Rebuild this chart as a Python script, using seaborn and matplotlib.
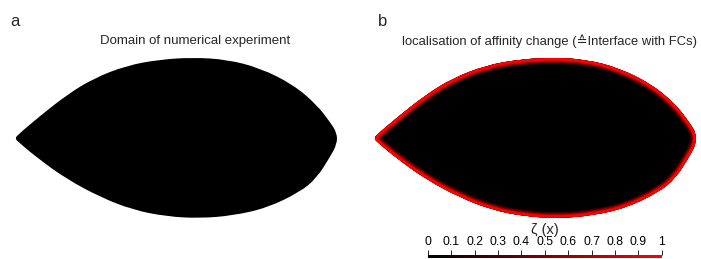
import numpy as np
import matplotlib
matplotlib.use("Agg")
import matplotlib.pyplot as plt
import seaborn as sns
from matplotlib.path import Path
from matplotlib.patches import PathPatch

# outline of the domain (pixels, panel a frame)
outline_x = [15.5, 17, 40, 66.7, 93.3, 126.7, 160, 193.3, 226.7, 260, 293.3, 316.7, 330, 337,
             337, 330, 316.7, 300, 266.7, 233.3, 200, 166.7, 133.3, 100, 66.7, 40, 17]
outline_y = [138.3, 135.5, 116, 95, 78.5, 65.5, 59.5, 57.5, 59.5, 68, 84.7, 104.7, 122, 133,
             144, 157, 178, 192, 208, 215.5, 218.3, 216.5, 210, 197, 179, 160, 141]

zeta_ticks = [0, 0.1, 0.2, 0.3, 0.4, 0.5, 0.6, 0.7, 0.8, 0.9, 1]
zeta_labels = ["0", "0.1", "0.2", "0.3", "0.4", "0.5", "0.6", "0.7", "0.8", "0.9", "1"]

title_a = "Domain of numerical experiment"
title_b = "localisation of affinity change (\u2259Interface with FCs)"

sns.set_theme(style="white")
plt.rcParams["font.family"] = ["Liberation Sans", "DejaVu Sans"]

cmap = sns.blend_palette(["black", "red"], as_cmap=True)


def smooth_path(xs, ys):
    # closed quadratic b-spline with the read points as control points
    p = np.column_stack([xs, ys])
    n = len(p)
    mids = (p + np.roll(p, -1, axis=0)) / 2
    verts = [mids[-1]]
    codes = [Path.MOVETO]
    for i in range(n):
        verts += [p[i], mids[i]]
        codes += [Path.CURVE3, Path.CURVE3]
    return Path(verts, codes)


W, H = 701, 259
fig = plt.figure(figsize=(W / 100, H / 100), dpi=100)

ax_a = fig.add_axes([0, 0, 342 / W, 1])
ax_b = fig.add_axes([359 / W, 0, 342 / W, 1])
for ax in (ax_a, ax_b):
    ax.set_xlim(0, 342)
    ax.set_ylim(H, 0)
    ax.axis("off")

shape = smooth_path(outline_x, outline_y)

# panel a
ax_a.add_patch(PathPatch(shape, facecolor="black", edgecolor="none"))
ax_a.text(15, 21, "a", fontsize=12, ha="center", va="center")
ax_a.text(195, 41, title_a, fontsize=9.5, ha="center", va="center")

# panel b: black interior, zeta rises to 1 at the boundary
base = PathPatch(shape, facecolor="black", edgecolor="none")
ax_b.add_patch(base)
for depth, level in [(6, 0.15), (5, 0.35), (4, 0.55), (3.2, 0.75), (2.5, 1.0)]:
    ring = PathPatch(shape, facecolor="none", edgecolor=cmap(level),
                     linewidth=2 * depth * 0.72)
    ax_b.add_patch(ring)
    ring.set_clip_path(base)
ax_b.text(24, 21, "b", fontsize=12, ha="center", va="center")
ax_b.text(190, 41, title_b, fontsize=9.4, ha="center", va="center")

# colorbar
cax = fig.add_axes([428 / W, 1 - 258 / H, (661.7 - 428) / W, 3.5 / H])
sm = matplotlib.cm.ScalarMappable(norm=matplotlib.colors.Normalize(0, 1), cmap=cmap)
cb = fig.colorbar(sm, cax=cax, orientation="horizontal")
cb.outline.set_visible(False)
cax.xaxis.set_ticks_position("top")
cax.xaxis.set_label_position("top")
cb.set_ticks(zeta_ticks)
cb.set_ticklabels(zeta_labels)
cax.tick_params(axis="x", direction="out", length=3.6, width=0.6, pad=0.8,
                labelsize=8.8, colors="black")
cb.set_label("\u03b6 (x)", fontsize=10.5, labelpad=1.5)

fig.savefig("out.png", dpi=100)
